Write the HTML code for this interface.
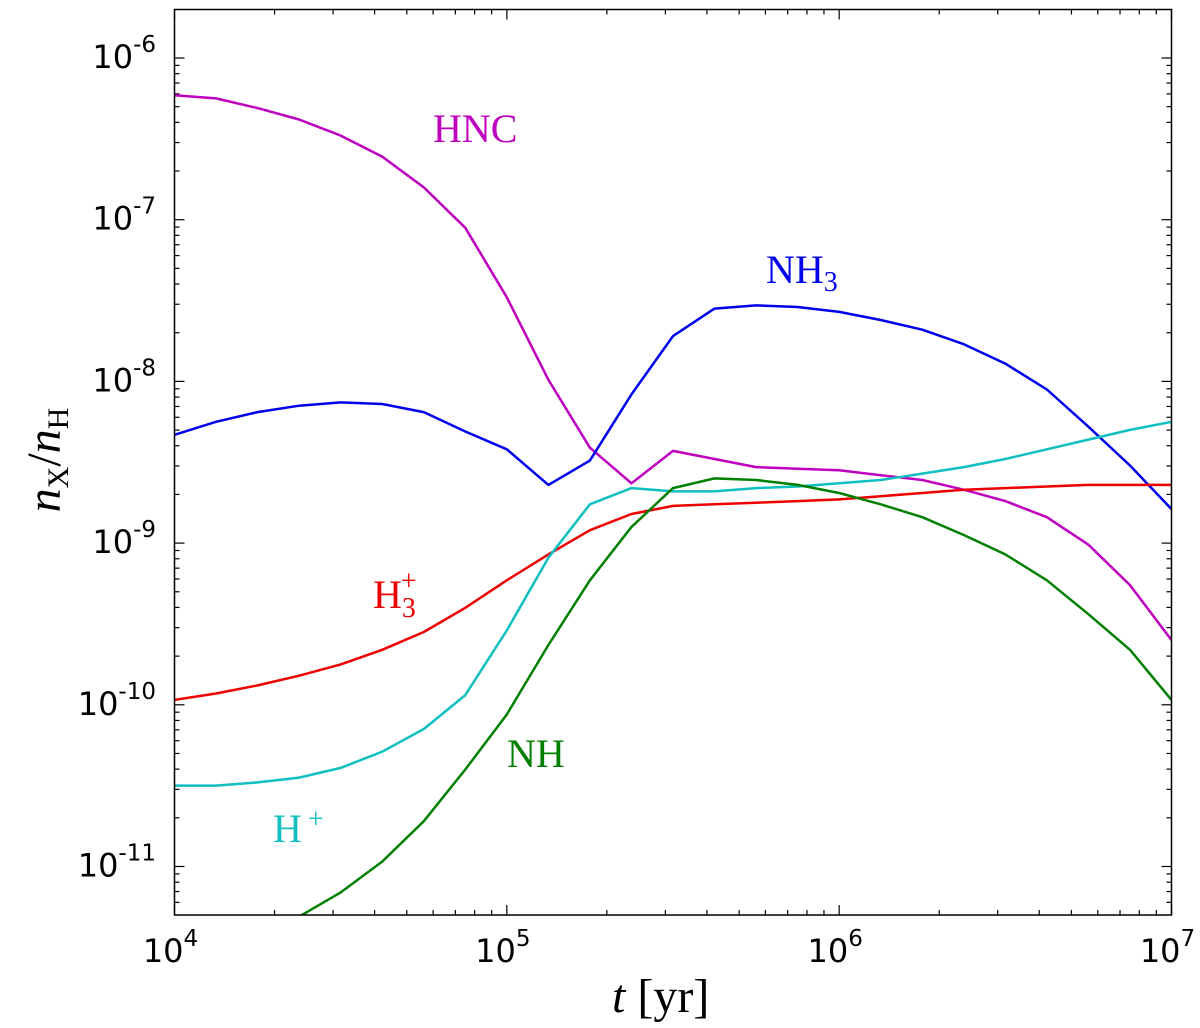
<!DOCTYPE html>
<html><head><meta charset="utf-8"><style>
html,body{margin:0;padding:0;background:#fff;}
svg{display:block;}
.tick{font-family:"DejaVu Sans","Liberation Sans",sans-serif;font-size:32px;fill:#000;}
.lab{font-family:"Liberation Serif",serif;}
</style></head><body>
<svg id="chart" width="1200" height="1028" viewBox="0 0 1200 1028">
<rect x="0" y="0" width="1200" height="1028" fill="#fff"/>
<g id="ticks"></g>
<g id="lines"></g>
<rect x="174.5" y="9.5" width="997" height="905.5" fill="none" stroke="#000" stroke-width="1.5"/>
<g id="labels"></g>
<text class="lab" x="433" y="142" font-size="40" fill="#bf00bf">HNC</text>
<text class="lab" x="766" y="283" font-size="40" fill="#0000ee">NH<tspan font-size="28" dy="8">3</tspan></text>
<text class="lab" x="373" y="608" font-size="40" fill="#ee0000">H<tspan font-size="28" dy="9">3</tspan><tspan font-size="28" dx="-15" dy="-27">+</tspan></text>
<text class="lab" x="507" y="767" font-size="40" fill="#007f00">NH</text>
<text class="lab" x="273" y="842" font-size="40" fill="#10bfbf">H<tspan font-size="28" dx="6" dy="-14">+</tspan></text>
<text class="lab" x="612" y="1012" font-size="48"><tspan font-style="italic">t</tspan> [yr]</text>
<text class="lab" transform="translate(60,460) rotate(-90)" text-anchor="middle" font-size="48"><tspan font-style="italic">n</tspan><tspan font-size="30" dy="8">X</tspan><tspan dy="-8">/</tspan><tspan font-style="italic">n</tspan><tspan font-size="30" dy="8">H</tspan></text>
</svg>
<script>
const logT = [4,4.125,4.25,4.375,4.5,4.625,4.75,4.875,5,5.125,5.25,5.375,5.5,5.625,5.75,5.875,6,6.125,6.25,6.375,6.5,6.625,6.75,6.875,7];
const hnc = [-6.23,-6.25,-6.31,-6.38,-6.48,-6.61,-6.80,-7.05,-7.48,-7.99,-8.41,-8.63,-8.43,-8.48,-8.53,-8.54,-8.55,-8.58,-8.61,-8.67,-8.74,-8.84,-9.01,-9.26,-9.60];
const nh3 = [-8.33,-8.25,-8.19,-8.15,-8.13,-8.14,-8.19,-8.31,-8.42,-8.64,-8.49,-8.08,-7.72,-7.55,-7.53,-7.54,-7.57,-7.62,-7.68,-7.77,-7.89,-8.05,-8.28,-8.52,-8.79];
const h3p = [-9.97,-9.93,-9.88,-9.82,-9.75,-9.66,-9.55,-9.40,-9.23,-9.07,-8.92,-8.82,-8.77,-8.76,-8.75,-8.74,-8.73,-8.71,-8.69,-8.67,-8.66,-8.65,-8.64,-8.64,-8.64];
const hp = [-10.50,-10.50,-10.48,-10.45,-10.39,-10.29,-10.15,-9.94,-9.54,-9.09,-8.76,-8.66,-8.68,-8.68,-8.66,-8.65,-8.63,-8.61,-8.57,-8.53,-8.48,-8.42,-8.36,-8.30,-8.25];
const nh = [-11.76,-11.61,-11.45,-11.31,-11.16,-10.97,-10.72,-10.40,-10.06,-9.63,-9.23,-8.90,-8.66,-8.60,-8.61,-8.64,-8.69,-8.76,-8.84,-8.95,-9.07,-9.23,-9.44,-9.66,-9.97];
const xTickExp = [4,5,6,7];
const yTickExp = [-6,-7,-8,-9,-10,-11];

const X0=174.5, X1=1171.5, Y0=9.5, Y1=915;
const xMin=4, xMax=7, yMax=-5.7, yMin=-11.3;
function sx(v){return X0+(v-xMin)/(xMax-xMin)*(X1-X0);}
function sy(v){return Y0+(yMax-v)/(yMax-yMin)*(Y1-Y0);}
const NS="http://www.w3.org/2000/svg";
const tg=document.getElementById('ticks'), lg=document.getElementById('labels'), ln=document.getElementById('lines');
function line(g,x1,y1,x2,y2){const l=document.createElementNS(NS,'line');l.setAttribute('x1',x1);l.setAttribute('y1',y1);l.setAttribute('x2',x2);l.setAttribute('y2',y2);l.setAttribute('stroke','#000');l.setAttribute('stroke-width','1.2');


g.appendChild(l);}
for(let d=4; d<=7; d++){
  for(let m=1;m<=9;m++){
    const v=d+Math.log10(m); if(v>7.0001) break;
    const x=sx(v), len=(m===1)?10:5;
    line(tg,x,Y1,x,Y1-len); line(tg,x,Y0,x,Y0+len);
  }
}
for(let d=-12; d<=-6; d++){
  for(let m=1;m<=9;m++){
    const v=d+Math.log10(m); if(v<yMin||v>yMax) continue;
    const y=sy(v), len=(m===1)?10:5;
    line(tg,X0,y,X0+len,y); line(tg,X1,y,X1-len,y);
  }
}
xTickExp.forEach(e=>{
  const t=document.createElementNS(NS,'text');
  t.setAttribute('class','tick');t.setAttribute('x',sx(e)-4);t.setAttribute('y',962);t.setAttribute('text-anchor','middle');
  t.innerHTML='10<tspan font-size="23" dy="-16">'+e+'</tspan>';
  
  
  lg.appendChild(t);
});
yTickExp.forEach(e=>{
  const t=document.createElementNS(NS,'text');
  t.setAttribute('class','tick');t.setAttribute('x',156);t.setAttribute('y',sy(e)+10);t.setAttribute('text-anchor','end');
  t.innerHTML='10<tspan font-size="23" dy="-16">'+e+'</tspan>';
  
  
  lg.appendChild(t);
});
const cp=document.createElementNS(NS,'clipPath');cp.setAttribute('id','clip');
const cr=document.createElementNS(NS,'rect');cr.setAttribute('x',X0);cr.setAttribute('y',Y0);cr.setAttribute('width',X1-X0);cr.setAttribute('height',Y1-Y0);
cp.appendChild(cr);document.getElementById('chart').appendChild(cp);
ln.setAttribute('clip-path','url(#clip)');
[[hnc,'#bf00bf','series-hnc'],[nh3,'#0000ee','series-nh3'],[h3p,'#ee0000','series-h3plus'],[hp,'#10bfbf','series-hplus'],[nh,'#007f00','series-nh']].forEach(s=>{
  const p=document.createElementNS(NS,'polyline');
  p.setAttribute('points',logT.map((t,i)=>sx(t).toFixed(1)+','+sy(s[0][i]).toFixed(1)).join(' '));
  p.setAttribute('fill','none');p.setAttribute('stroke',s[1]);p.setAttribute('stroke-width','2.5');p.setAttribute('stroke-linejoin','round');
  
  
  ln.appendChild(p);
});
</script>
</body></html>
